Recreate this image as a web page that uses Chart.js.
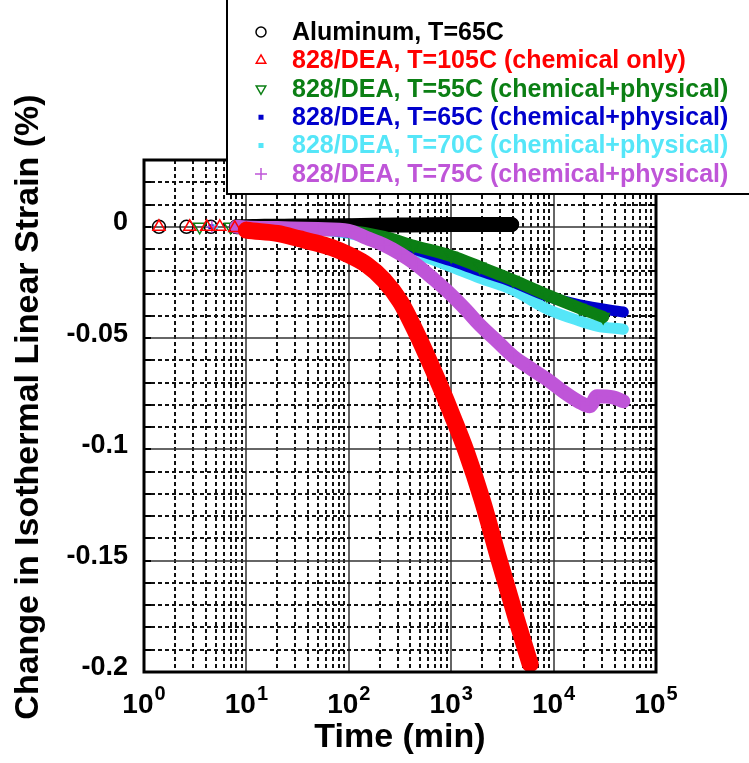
<!DOCTYPE html>
<html>
<head>
<meta charset="utf-8">
<script src="https://cdn.jsdelivr.net/npm/chart.js@4.4.1/dist/chart.umd.min.js"></script>
<style>
  html, body { margin: 0; padding: 0; background: #fff; }
  #wrap { position: relative; width: 749px; height: 763px; }
</style>
</head>
<body>
<div id="wrap"><canvas id="myChart"></canvas></div>
<script>
const FONT = '"Liberation Sans", Arial, sans-serif'

// axis ticks
const xTickValues = [1, 10, 100, 1000, 10000, 100000]
const xTickExps = ['0', '1', '2', '3', '4', '5']
const yTickValues = [-0.2, -0.15, -0.1, -0.05, 0]
const yTickLabels = ['-0.2', '-0.15', '-0.1', '-0.05', '0']

const seriesNames = [
  'Aluminum, T=65C',
  '828/DEA, T=105C (chemical only)',
  '828/DEA, T=55C (chemical+physical)',
  '828/DEA, T=65C (chemical+physical)',
  '828/DEA, T=70C (chemical+physical)',
  '828/DEA, T=75C (chemical+physical)'
]

// time (min) / strain (%)
const alTime = [1.4, 2.6, 4.5, 8, 15, 30, 100, 300, 1000, 2000, 3900]
const alStrain = [0, 0, 0, 0, 0.0002, 0.0003, 0.0005, 0.0008, 0.001, 0.001, 0.001]

const redTime = [1.4, 2.8, 4.1, 5.5, 7.7, 10, 20, 33, 50, 70, 100, 150, 220, 320, 424, 580, 780, 1040, 1400, 2000, 2930, 4300, 5900]
const redStrain = [0, 0, 0, 0, -0.0005, -0.0015, -0.003, -0.0054, -0.0075, -0.0095, -0.0126, -0.0171, -0.0239, -0.0338, -0.0446, -0.058, -0.0716, -0.0856, -0.1009, -0.1225, -0.1495, -0.1757, -0.1964]

const greenTime = [3.5, 7, 10, 20, 50, 100, 220, 430, 1000, 1900, 4000, 8600, 18000, 30500]
const greenStrain = [0, 0, -0.0003, -0.0006, -0.001, -0.0018, -0.0045, -0.0085, -0.0131, -0.018, -0.0239, -0.0306, -0.0365, -0.0405]

const blueTime = [4.5, 8, 10, 20, 50, 100, 220, 430, 1000, 1900, 4000, 8600, 18000, 48000]
const blueStrain = [0, 0, -0.0003, -0.0006, -0.0012, -0.0025, -0.0055, -0.01, -0.0153, -0.0198, -0.0248, -0.0311, -0.0351, -0.0383]

const cyanTime = [5, 8, 10, 20, 50, 100, 220, 430, 1000, 1900, 4000, 8600, 18000, 26500, 48000]
const cyanStrain = [0, 0, -0.0003, -0.0007, -0.0015, -0.003, -0.0065, -0.0115, -0.018, -0.023, -0.0284, -0.0369, -0.0423, -0.0446, -0.046]

const purpleTime = [4.6, 8, 10, 20, 50, 100, 150, 220, 320, 460, 670, 980, 1400, 1900, 2800, 4000, 5900, 8600, 12300, 18000, 22600, 26500, 38000, 48000]
const purpleStrain = [0, 0, -0.0003, -0.0006, -0.001, -0.0018, -0.005, -0.0081, -0.0122, -0.0171, -0.0234, -0.0302, -0.0374, -0.0441, -0.0514, -0.0581, -0.0635, -0.0685, -0.0739, -0.0788, -0.0806, -0.0761, -0.0766, -0.0784]

// early points show as single markers, the dense band starts here
const BAND_FROM = 8
const CLEAR = 'rgba(0,0,0,0)'

function makeSet (label, time, strain, color, opts) {
  return {
    label: label,
    data: time.map((t, i) => ({ x: t, y: strain[i] })),
    borderColor: color,
    borderWidth: opts.width,
    borderCapStyle: 'round',
    borderJoinStyle: 'round',
    cubicInterpolationMode: 'monotone',
    pointStyle: opts.point,
    pointRotation: opts.rotation || 0,
    pointRadius: opts.radius,
    pointBorderWidth: 1.5,
    pointBorderColor: color,
    pointBackgroundColor: opts.fill ? color : CLEAR,
    legendRadius: opts.legendRadius,
    order: opts.order,
    segment: {
      borderColor: ctx => ctx.p0.parsed.x < BAND_FROM ? CLEAR : color
    }
  }
}

const datasets = [
  makeSet(seriesNames[0], alTime, alStrain, '#000000', { width: 15, point: 'circle', radius: 6.5, legendRadius: 5, order: 6 }),
  makeSet(seriesNames[1], redTime, redStrain, '#ff0000', { width: 17, point: 'triangle', radius: 7, legendRadius: 5.5, order: 1 }),
  makeSet(seriesNames[2], greenTime, greenStrain, '#0b7f14', { width: 12, point: 'triangle', rotation: 180, radius: 7, legendRadius: 5.5, order: 3 }),
  makeSet(seriesNames[3], blueTime, blueStrain, '#0000cc', { width: 11, point: 'rect', radius: 2.5, fill: true, legendRadius: 2.5, order: 4 }),
  makeSet(seriesNames[4], cyanTime, cyanStrain, '#55e6f8', { width: 11, point: 'rect', radius: 2.5, fill: true, legendRadius: 2.5, order: 5 }),
  makeSet(seriesNames[5], purpleTime, purpleStrain, '#bf55d8', { width: 14, point: 'cross', radius: 6, legendRadius: 6, order: 2 })
]

// dashed minor grid, solid major grid, heavy frame, labels, boxed legend
const decorPlugin = {
  id: 'decor',
  beforeDatasetsDraw (chart) {
    const { ctx, chartArea: a, scales: { x, y } } = chart
    ctx.save()
    ctx.beginPath()
    ctx.rect(a.left, a.top, a.right - a.left, a.bottom - a.top)
    ctx.clip()
    for (let e = 0; e < 5; e++) {
      for (let m = 1; m < 10; m++) {
        const major = m === 1
        const px = Math.round(x.getPixelForValue(m * Math.pow(10, e)))
        ctx.lineWidth = major ? 1.5 : 2
        ctx.strokeStyle = major ? '#333' : '#111'
        ctx.setLineDash(major ? [] : [4, 3])
        ctx.beginPath()
        ctx.moveTo(px, a.top)
        ctx.lineTo(px, a.bottom)
        ctx.stroke()
      }
    }
    for (let k = -20; k <= 3; k++) {
      const major = k % 5 === 0
      const py = Math.round(y.getPixelForValue(k / 100))
      ctx.lineWidth = major ? 1.5 : 2
      ctx.strokeStyle = major ? '#333' : '#111'
      ctx.setLineDash(major ? [] : [4, 3])
      ctx.beginPath()
      ctx.moveTo(a.left, py)
      ctx.lineTo(a.right, py)
      ctx.stroke()
    }
    ctx.restore()
  },
  afterDatasetsDraw (chart) {
    const { ctx, chartArea: a, scales: { y } } = chart
    ctx.save()
    ctx.strokeStyle = '#000'
    ctx.lineWidth = 2
    for (let k = -20; k <= 3; k++) {
      const py = Math.round(y.getPixelForValue(k / 100))
      ctx.beginPath()
      ctx.moveTo(a.left, py)
      ctx.lineTo(a.left + 7, py)
      ctx.moveTo(a.right - 7, py)
      ctx.lineTo(a.right, py)
      ctx.stroke()
    }
    ctx.lineWidth = 3
    ctx.strokeRect(a.left, a.top, a.right - a.left, a.bottom - a.top)
    ctx.restore()
  },
  afterDraw (chart) {
    const { ctx, chartArea: a, scales: { x } } = chart
    ctx.save()
    ctx.fillStyle = '#000'

    // x tick labels as 10 with a raised exponent
    ctx.textAlign = 'left'
    ctx.textBaseline = 'alphabetic'
    xTickValues.forEach((v, i) => {
      const px = x.getPixelForValue(v)
      ctx.font = 'bold 28px ' + FONT
      const wBase = ctx.measureText('10').width
      ctx.font = 'bold 20px ' + FONT
      const wExp = ctx.measureText(xTickExps[i]).width
      const left = px - (wBase + 1 + wExp) / 2
      ctx.font = 'bold 28px ' + FONT
      ctx.fillText('10', left, a.bottom + 41)
      ctx.font = 'bold 20px ' + FONT
      ctx.fillText(xTickExps[i], left + wBase + 1, a.bottom + 28)
    })

    // y axis title (drawn here so it is not squeezed to the axis height)
    ctx.translate(29, 407)
    ctx.rotate(-Math.PI / 2)
    ctx.font = 'bold 34px ' + FONT
    ctx.textAlign = 'center'
    ctx.textBaseline = 'middle'
    ctx.fillText('Change in Isothermal Linear Strain (%)', 0, 0)
    ctx.restore()

    ctx.save()
    ctx.fillStyle = '#fff'
    ctx.fillRect(227, -5, 600, 199)
    ctx.strokeStyle = '#000'
    ctx.lineWidth = 2
    ctx.strokeRect(227, -5, 600, 199)
    ctx.font = 'bold 25px ' + FONT
    ctx.textBaseline = 'middle'
    chart.data.datasets.forEach((ds, i) => {
      const rowY = 32 + i * 28.4
      ctx.strokeStyle = ds.borderColor
      ctx.fillStyle = ds.pointBackgroundColor
      ctx.lineWidth = 1.5
      Chart.helpers.drawPoint(ctx, {
        pointStyle: ds.pointStyle,
        rotation: ds.pointRotation,
        radius: ds.legendRadius,
        borderWidth: 1.5
      }, 261, rowY)
      ctx.fillStyle = ds.borderColor
      ctx.fillText(ds.label, 292, rowY + 1)
    })
    ctx.restore()
  }
}

const ctx = document.getElementById('myChart')
// eslint-disable-next-line no-unused-vars
const myChart = new Chart(ctx, {
  type: 'line',
  data: { datasets: datasets },
  options: {
    responsive: true,
    maintainAspectRatio: false,
    animation: false,
    layout: { padding: { top: 160, right: 93, left: 0, bottom: 0 } },
    plugins: {
      legend: { display: false },
      tooltip: { enabled: false }
    },
    scales: {
      x: {
        type: 'logarithmic',
        min: 1,
        max: 100000,
        grid: { display: false },
        border: { display: false },
        afterBuildTicks: s => { s.ticks = xTickValues.map(v => ({ value: v })) },
        afterFit: s => { s.height = 91 },
        ticks: { display: false },
        title: {
          display: true,
          text: 'Time (min)',
          color: '#000',
          font: { family: FONT, size: 34, weight: 'bold' },
          padding: { top: 0, bottom: 5 }
        }
      },
      y: {
        type: 'linear',
        min: -0.2,
        max: 0.03,
        grid: { display: false },
        border: { display: false },
        afterBuildTicks: s => { s.ticks = yTickValues.map(v => ({ value: v })) },
        afterFit: s => { s.width = 144 },
        ticks: {
          autoSkip: false,
          padding: 8,
          labelOffset: -4,
          color: '#000',
          font: { family: FONT, size: 27, weight: 'bold' },
          callback: v => yTickLabels[yTickValues.indexOf(v)]
        }
      }
    }
  },
  plugins: [decorPlugin]
})
</script>
</body>
</html>
